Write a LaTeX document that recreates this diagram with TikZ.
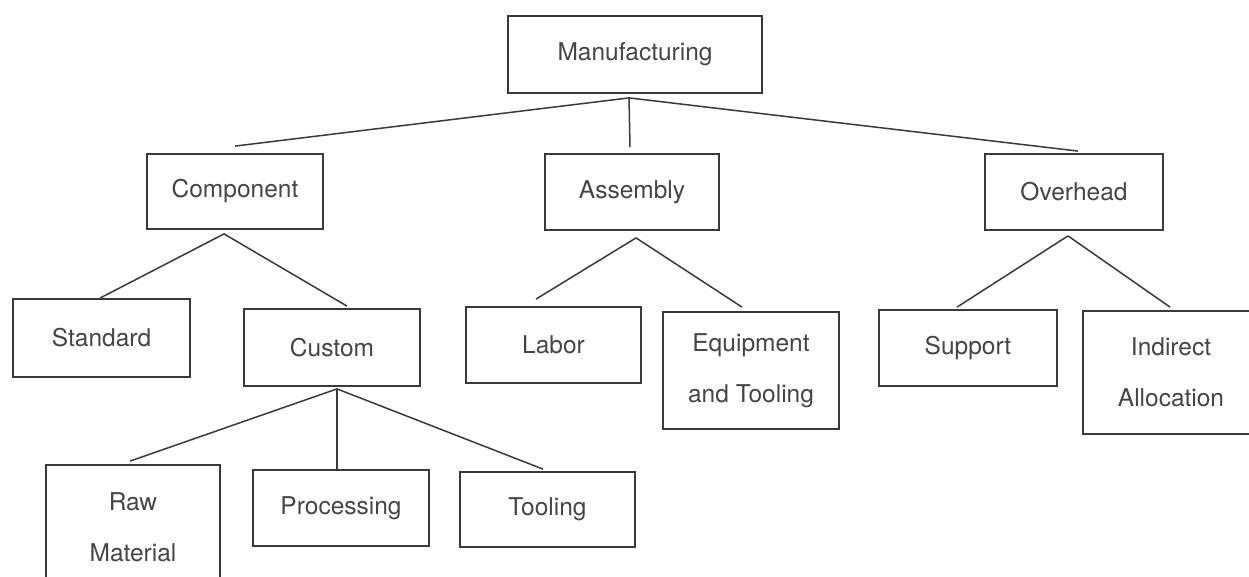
\documentclass[tikz,border=0pt]{standalone}
\usepackage{fontspec}
\setmainfont{TeX Gyre Heros}
\definecolor{linegray}{HTML}{3A3A3A}
\definecolor{textgray}{HTML}{454545}
\newcommand{\labelfont}{\fontsize{24.5}{51}\selectfont}
\begin{document}
\begin{tikzpicture}[x=1pt,y=-1pt,
  box/.style={draw=linegray, line width=1.8pt, inner sep=0pt, text=textgray,
              font=\labelfont, align=center},
  link/.style={draw=linegray, line width=1.5pt, line join=round}]
\useasboundingbox (0,0) rectangle (1249,577);
\clip (0,0) rectangle (1249,577);

% level 0
\node[box, minimum width=254pt, minimum height=77pt] (man) at (635,54.5) {Manufacturing};

% level 1
\node[box, minimum width=176pt, minimum height=75pt] (comp) at (235,191.5) {Component};
\node[box, minimum width=174pt, minimum height=76pt] (asm)  at (632,192)   {Assembly};
\node[box, minimum width=178pt, minimum height=76pt] (ovh)  at (1074,192)  {Overhead};

% level 2
\node[box, minimum width=177pt, minimum height=78pt]  (std) at (101.5,338) {Standard};
\node[box, minimum width=176pt, minimum height=77pt]  (cus) at (332,347.5) {Custom};
\node[box, minimum width=175pt, minimum height=76pt]  (lab) at (553.5,345) {Labor};
\node[box, minimum width=176pt, minimum height=117pt] (eqp) at (751,370.5) {Equipment\\and Tooling};
\node[box, minimum width=178pt, minimum height=76pt]  (sup) at (968,348)   {Support};
\node[box, minimum width=176pt, minimum height=123pt] (ind) at (1171,372.5) {Indirect\\Allocation};

% level 3
\node[box, minimum width=174pt, minimum height=124pt] (raw)  at (133,527)   {Raw\\Material};
\node[box, minimum width=176pt, minimum height=76pt]  (proc) at (341,508)   {Processing};
\node[box, minimum width=175pt, minimum height=75pt]  (tool) at (547.5,509.5) {Tooling};

% branch points below each parent
\coordinate (manA)  at ([xshift=-6pt,yshift=-4pt]man.south);
\coordinate (compA) at ([xshift=-11pt,yshift=-4pt]comp.south);
\coordinate (asmA)  at ([xshift=4pt,yshift=-7pt]asm.south);
\coordinate (ovhA)  at ([xshift=-6pt,yshift=-5pt]ovh.south);
\coordinate (cusA)  at ([xshift=5pt,yshift=-2pt]cus.south);

% connectors
\draw[link] ([yshift=7pt]comp.north) -- (manA) -- ([xshift=4pt,yshift=2pt]ovh.north);
\draw[link] (manA) -- ([xshift=-2pt,yshift=6pt]asm.north);

\draw[link] ([xshift=-1.5pt]std.north) -- (compA) -- ([xshift=15pt,yshift=2pt]cus.north);
\draw[link] ([xshift=-17.5pt,yshift=7pt]lab.north) -- (asmA) -- ([xshift=-9pt,yshift=4pt]eqp.north);
\draw[link] ([xshift=-11pt,yshift=2pt]sup.north) -- (ovhA) -- ([xshift=-1pt,yshift=3pt]ind.north);

\draw[link] ([xshift=-3pt,yshift=3pt]raw.north) -- (cusA) -- ([xshift=-4.5pt,yshift=2pt]tool.north);
\draw[link] (cusA) -- ([xshift=-4pt]proc.north);
\end{tikzpicture}
\end{document}
